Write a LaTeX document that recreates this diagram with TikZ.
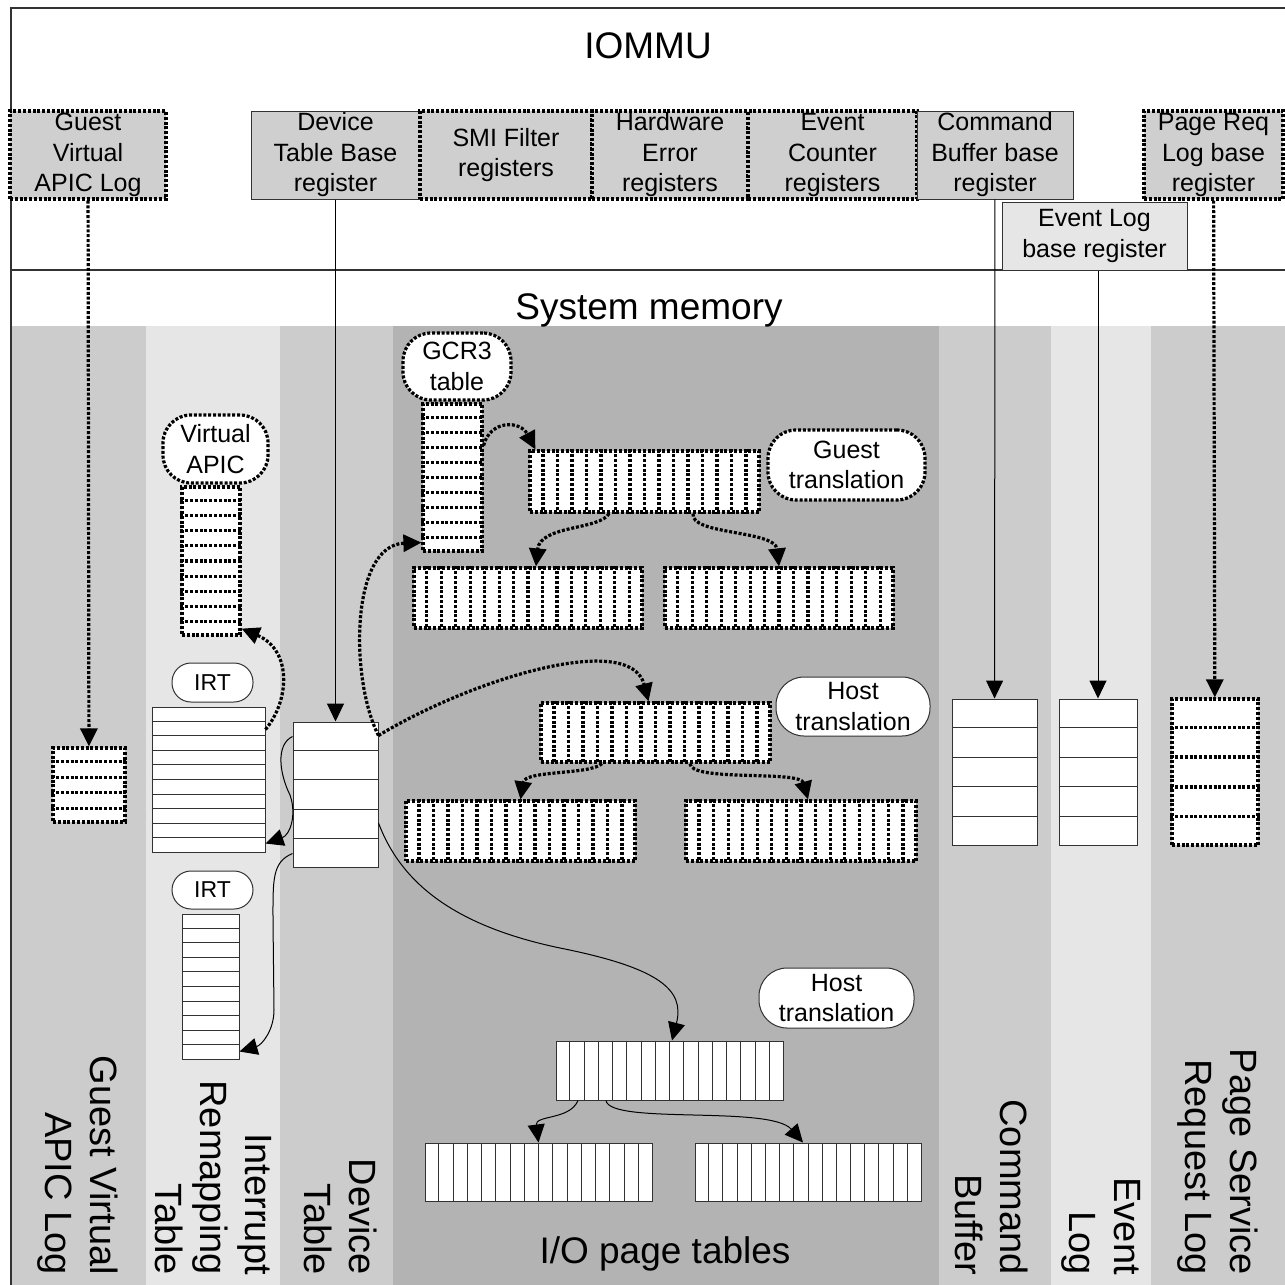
\documentclass[tikz,border=0pt]{standalone}
\usepackage{fontspec}
\setmainfont{Liberation Sans}
\usepackage{tikz}
\usetikzlibrary{positioning,calc,arrows.meta}
\definecolor{colA}{RGB}{204,204,204}
\definecolor{colB}{RGB}{230,230,230}
\definecolor{colC}{RGB}{179,179,179}
\definecolor{regfill}{RGB}{207,207,207}
\definecolor{edge}{RGB}{50,50,50}
\tikzstyle{reg} = [rectangle, draw=edge, line width=1pt, fill=regfill,
    inner sep=0pt, align=center, font=\fontsize{25}{30.5}\selectfont]
\tikzstyle{regdot} = [reg, draw=black, line width=3.2pt, dash pattern=on 3pt off 1.8pt]
\tikzstyle{tab} = [rectangle, draw=edge, line width=1pt, fill=white, inner sep=0pt]
\tikzstyle{tabdot} = [tab, draw=black, line width=3.2pt, dash pattern=on 3pt off 1.8pt]
\tikzstyle{rowline} = [draw=edge, line width=1pt]
\tikzstyle{rowdot} = [draw=black, line width=3.2pt, dash pattern=on 3pt off 1.8pt]
\tikzstyle{bub} = [rectangle, rounded corners=28pt, draw=edge, line width=1pt, fill=white,
    inner sep=0pt, align=center, font=\fontsize{25}{30.5}\selectfont]
\tikzstyle{bubdot} = [bub, draw=black, line width=3.2pt, dash pattern=on 3pt off 1.8pt]
\tikzstyle{heading} = [anchor=base, font=\fontsize{37}{44}\selectfont]
\tikzstyle{sidelabel} = [rotate=-90, anchor=north east, inner sep=0pt, align=right,
    font=\fontsize{38}{45}\selectfont]
\tikzstyle{link} = [draw=black, line width=1pt, -{Triangle[length=18pt,width=17pt]}]
\tikzstyle{dotlink} = [draw=black, line width=3.2pt, dash pattern=on 3pt off 1.8pt,
    -{Triangle[length=18pt,width=17pt]}]

\begin{document}
\begin{tikzpicture}[x=1pt, y=-1pt]
        \useasboundingbox (0,0) rectangle (1285,1285);
            % Background
        \fill[white] (0,0) rectangle (1285,1285);
        \fill[colA] (11,326) rectangle (146,1285);
        \fill[colB] (146,326) rectangle (280,1285);
        \fill[colA] (280,326) rectangle (393,1285);
        \fill[colC] (393,326) rectangle (939,1285);
        \fill[colA] (939,326) rectangle (1051,1285);
        \fill[colB] (1051,326) rectangle (1151,1285);
        \fill[colA] (1151,326) rectangle (1285,1285);
        \draw[edge, line width=1.5pt] (11,1285) -- (11,8) -- (1285,8);
        \draw[edge, line width=1.5pt] (11,270) -- (1285,270);
            % Nodes
        \node [heading] (iommu) at (648,58) {IOMMU};
        \node [heading] (sysmem) at (649,319) {System memory};
        \node [heading] (iopt) at (665,1263) {I/O page tables};

        \node [regdot, minimum width=156pt, minimum height=88pt] (gvalreg) at (88,155) {Guest\\Virtual\\APIC Log};
        \node [reg, minimum width=169pt, minimum height=88pt] (dtbreg) at (335.5,155) {Device\\Table Base\\register};
        \node [regdot, minimum width=172pt, minimum height=88pt] (smireg) at (506,155) {SMI Filter\\registers};
        \node [regdot, minimum width=156pt, minimum height=88pt] (hwereg) at (670,155) {Hardware\\Error\\registers};
        \node [regdot, minimum width=169pt, minimum height=88pt] (evcreg) at (832.5,155) {Event\\Counter\\registers};
        \node [reg, minimum width=156pt, minimum height=88pt] (cbbreg) at (995,155) {Command\\Buffer base\\register};
        \node [reg, fill=colB, minimum width=185pt, minimum height=68pt] (elbreg) at (1094.5,236) {Event Log\\base register};
        \node [regdot, minimum width=139pt, minimum height=88pt] (prlreg) at (1213.5,155) {Page Req\\Log base\\register};

        \node [tabdot, minimum width=72pt, minimum height=74pt] (gvlog) at (89,785) {};
        \node [tabdot, minimum width=58pt, minimum height=148pt] (vapic) at (211,561) {};
        \node [tab, minimum width=113pt, minimum height=145pt] (irt1) at (208.5,779.5) {};
        \node [tab, minimum width=57pt, minimum height=145pt] (irt2) at (210.5,986.5) {};
        \node [tab, minimum width=85pt, minimum height=145pt] (devtab) at (335.5,794.5) {};
        \node [tabdot, minimum width=59pt, minimum height=147pt] (gcr3) at (452.5,477.5) {};
        \node [tabdot, minimum width=229pt, minimum height=61pt] (gtop) at (644.5,481.5) {};
        \node [tabdot, minimum width=228pt, minimum height=60pt] (gleft) at (528,598) {};
        \node [tabdot, minimum width=228pt, minimum height=60pt] (gright) at (779,598) {};
        \node [tabdot, minimum width=229pt, minimum height=59pt] (htop) at (655.5,732.5) {};
        \node [tabdot, minimum width=229pt, minimum height=60pt] (hleft) at (520.5,831) {};
        \node [tabdot, minimum width=230pt, minimum height=60pt] (hright) at (801,831) {};
        \node [tab, minimum width=227pt, minimum height=59pt] (iotop) at (669.5,1070.5) {};
        \node [tab, minimum width=227pt, minimum height=58pt] (ioleft) at (538.5,1172) {};
        \node [tab, minimum width=226pt, minimum height=58pt] (ioright) at (808,1172) {};
        \node [tab, minimum width=85pt, minimum height=146pt] (cmdtab) at (994.5,772) {};
        \node [tab, minimum width=78pt, minimum height=146pt] (evtab) at (1098,772) {};
        \node [tabdot, minimum width=86pt, minimum height=146pt] (prtab) at (1215,772) {};

        \foreach \t/\n in {irt1/10,irt2/10,devtab/5,cmdtab/5,evtab/5}
            \foreach \i in {2,...,\n}
                \draw[rowline] ($(\t.north west)!{(\i-1)/\n}!(\t.south west)$) -- ($(\t.north east)!{(\i-1)/\n}!(\t.south east)$);
        \foreach \t/\n in {gvlog/5,vapic/10,gcr3/10,prtab/5}
            \foreach \i in {2,...,\n}
                \draw[rowdot] ($(\t.north west)!{(\i-1)/\n}!(\t.south west)$) -- ($(\t.north east)!{(\i-1)/\n}!(\t.south east)$);
        \foreach \t in {iotop,ioleft,ioright}
            \foreach \i in {2,...,16}
                \draw[rowline] ($(\t.north west)!{(\i-1)/16}!(\t.north east)$) -- ($(\t.south west)!{(\i-1)/16}!(\t.south east)$);
        \foreach \t in {gtop,gleft,gright,htop,hleft,hright}
            \foreach \i in {2,...,16}
                \draw[rowdot] ($(\t.north west)!{(\i-1)/16}!(\t.north east)$) -- ($(\t.south west)!{(\i-1)/16}!(\t.south east)$);

        \node [bubdot, minimum width=105pt, minimum height=68pt] (vapicbub) at (215.5,449) {Virtual\\APIC};
        \node [bub, rounded corners=19pt, font=\fontsize{23}{28}\selectfont, minimum width=81pt, minimum height=39pt] (irtbub1) at (212.5,682.5) {IRT};
        \node [bub, rounded corners=19pt, font=\fontsize{23}{28}\selectfont, minimum width=81pt, minimum height=38pt] (irtbub2) at (212.5,890) {IRT};
        \node [bubdot, minimum width=108pt, minimum height=67pt] (gcrbub) at (457,366.5) {GCR3\\table};
        \node [bubdot, minimum width=157pt, minimum height=70pt] (gtbub) at (846.5,465) {Guest\\translation};
        \node [bub, minimum width=154pt, minimum height=59pt] (htbub1) at (853,706.5) {Host\\translation};
        \node [bub, minimum width=155pt, minimum height=60pt] (htbub2) at (836.5,998) {Host\\translation};

        \node [sidelabel] (gvlabel) at (118,1275) {Guest Virtual\\APIC Log};
        \node [sidelabel] (irtlabel) at (272,1275) {Interrupt\\Remapping\\Table};
        \node [sidelabel] (devlabel) at (377,1275) {Device\\Table};
        \node [sidelabel] (cmdlabel) at (1028,1275) {Command\\Buffer};
        \node [sidelabel] (evlabel) at (1141,1275) {Event\\Log};
        \node [sidelabel] (prlabel) at (1258,1275) {Page Service\\Request Log};
            % Edges
        \path [dotlink] (gvalreg) -- (gvlog);
        \path [link] (dtbreg) -- (devtab);
        \path [link] (cbbreg) -- (cmdtab);
        \path [link] (elbreg.south -| evtab) -- (evtab);
        \path [dotlink] (prlreg) -- (prtab);

        \path [dotlink] ([yshift=-23pt]irt1.north east) .. controls (290,700) and (292,650) .. ([yshift=8pt]vapic.south east);
        \path [link] ([yshift=-15pt]devtab.north west) .. controls (275,745) and (280,775) .. (290,795) .. controls (297,815) and (290,835) .. ([yshift=9pt]irt1.south east);
        \path [link] ([yshift=14pt]devtab.south west) .. controls (272,862) and (273,880) .. (273,920) -- (274,1010) .. controls (274,1030) and (262,1045) .. ([yshift=8pt]irt2.south east);
        \path [dotlink] ([yshift=-14pt]devtab.north east) .. controls (350,680) and (350,545) .. ([yshift=10pt]gcr3.south west);
        \path [dotlink] ([yshift=-14pt]devtab.north east) .. controls (470,680) and (630,630) .. ([xshift=-7pt]htop.north);
        \path [link] ([yshift=-28.5pt]devtab.east) .. controls (400,880) and (450,925) .. (560,948) .. controls (660,968) and (685,990) .. ([xshift=2.5pt]iotop.north);

        \path [dotlink] ([yshift=32pt]gcr3.east) .. controls (490,420) and (520,420) .. ([xshift=7pt]gtop.north west);
        \path [dotlink] ([xshift=-35.5pt]gtop.south) .. controls (600,530) and (540,525) .. ([xshift=8pt]gleft.north);
        \path [dotlink] ([xshift=48.5pt]gtop.south) .. controls (690,535) and (775,530) .. (gright.north);
        \path [dotlink] ([xshift=-53.5pt]htop.south) .. controls (590,775) and (525,770) .. (hleft.north);
        \path [dotlink] ([xshift=34.5pt]htop.south) .. controls (690,782) and (800,770) .. ([xshift=7pt]hright.north);
        \path [link] ([xshift=-91.5pt]iotop.south) .. controls (570,1120) and (535,1115) .. (ioleft.north);
        \path [link] ([xshift=-63.5pt]iotop.south) .. controls (610,1125) and (770,1105) .. ([xshift=-5pt]ioright.north);
\end{tikzpicture}
\end{document}
